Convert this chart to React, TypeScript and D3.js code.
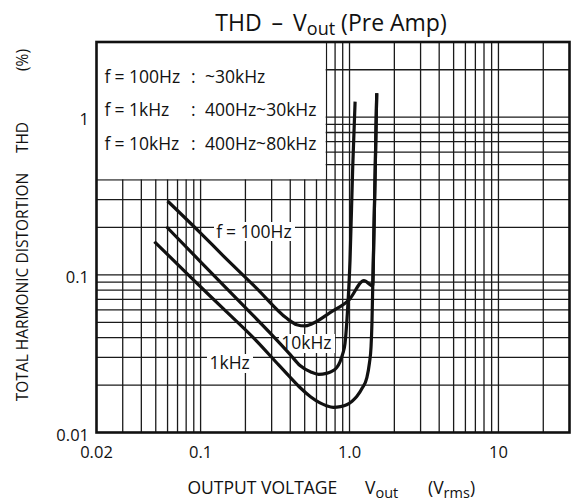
import React from "react";
import * as d3 from "d3";

// ---- data ----
const V_100HZ = [0.06, 0.1, 0.142, 0.238, 0.379, 0.442, 0.502, 0.557, 0.74, 1.0, 1.25, 1.43, 1.461, 1.49, 1.507, 1.523];
const THD_100HZ = [0.294, 0.184, 0.132, 0.0822, 0.053, 0.0483, 0.0474, 0.0488, 0.0576, 0.07, 0.092, 0.085, 0.202, 0.5, 0.872, 1.42];

const V_10KHZ = [0.059, 0.1, 0.2, 0.3, 0.4, 0.465, 0.55, 0.62, 0.7, 0.76, 0.82, 0.863, 0.9, 0.933, 0.967, 1.008, 1.051, 1.09];
const THD_10KHZ = [0.202, 0.121, 0.062, 0.0418, 0.0312, 0.0266, 0.0242, 0.0234, 0.0237, 0.0244, 0.0258, 0.0281, 0.0315, 0.0368, 0.057, 0.124, 0.486, 1.256];

const V_1KHZ = [0.049, 0.085, 0.142, 0.238, 0.33, 0.4, 0.465, 0.55, 0.634, 0.7, 0.778, 0.87, 0.957, 1.04, 1.118, 1.22, 1.306, 1.36, 1.395, 1.415, 1.432, 1.461, 1.49, 1.507, 1.523];
const THD_1KHZ = [0.1625, 0.0974, 0.061, 0.038, 0.0272, 0.0224, 0.0193, 0.0168, 0.0154, 0.0148, 0.01445, 0.0146, 0.015, 0.0158, 0.0169, 0.0192, 0.0222, 0.0275, 0.035, 0.05, 0.0842, 0.202, 0.5, 0.872, 1.42];

const X_TICKS = [0.02, 0.1, 1, 10];
const X_TICK_LABELS = ["0.02", "0.1", "1.0", "10"];
const Y_TICKS = [1, 0.1, 0.01];
const Y_TICK_LABELS = ["1", "0.1", "0.01"];

const LEGEND_FREQ = ["100Hz", "1kHz", "10kHz"];
const LEGEND_RANGE = ["~30kHz", "400Hz~30kHz", "400Hz~80kHz"];

const W = 571;
const H = 501;
const FONT = "'Open Sans', 'Noto Sans', sans-serif";

export default function App() {
  const x = d3.scaleLog().domain([0.02, 30]).range([96.5, 569.5]);
  const y = d3.scaleLog().domain([0.01, 3]).range([432.5, 42]);

  const xGrid = x.ticks().filter((v) => v > 0.0201 && v < 29.9);
  const yGrid = y.ticks().filter((v) => v > 0.0101 && v < 2.99);

  const line = d3
    .line<[number, number]>()
    .x((d) => x(d[0]))
    .y((d) => y(d[1]))
    .curve(d3.curveMonotoneX);

  const series = [
    { v: V_100HZ, t: THD_100HZ },
    { v: V_10KHZ, t: THD_10KHZ },
    { v: V_1KHZ, t: THD_1KHZ },
  ];

  const [x0, x1] = x.range();
  const [y0, y1] = y.range();
  const boxRight = x(0.7) - 0.8;
  const boxBottom = y(0.4) - 0.8;
  const legendY = [82.5, 116, 149.5];

  return (
    <svg
      width={W}
      height={H}
      style={{ position: "absolute", left: 0, top: 0, background: "#fff" }}
      fontFamily={FONT}
    >
      <rect x={0} y={0} width={W} height={H} fill="#fff" />
      {/* grid */}
      <g stroke="#1a1a1a" strokeWidth={1.3}>
        {xGrid.map((v) => (
          <line key={"gx" + v} x1={x(v)} x2={x(v)} y1={y1} y2={y0} />
        ))}
        {yGrid.map((v) => (
          <line key={"gy" + v} x1={x0} x2={x1} y1={y(v)} y2={y(v)} />
        ))}
      </g>
      {/* legend box (white) */}
      <rect x={x0} y={y1} width={boxRight - x0} height={boxBottom - y1} fill="#fff" />
      <g fontSize={17.5} fill="#111">
        {LEGEND_FREQ.map((f, i) => (
          <text key={"lg" + i} y={legendY[i]}>
            <tspan x={104.5}>f</tspan>
            <tspan x={114.5}>=</tspan>
            <tspan x={129}>{f}</tspan>
            <tspan x={191}>:</tspan>
            <tspan x={205}>{LEGEND_RANGE[i]}</tspan>
          </text>
        ))}
      </g>
      {/* curve labels with white background */}
      <g fontSize={17.5} fill="#111">
        <rect x={214} y={222} width={81} height={19} fill="#fff" />
        <text y={237.7}>
          <tspan x={216.2}>f</tspan>
          <tspan x={226}>=</tspan>
          <tspan x={240.5}>100Hz</tspan>
        </text>
        <rect x={279} y={334} width={56} height={19} fill="#fff" />
        <text x={281.2} y={349.3}>10kHz</text>
        <rect x={207} y={354} width={46} height={19} fill="#fff" />
        <text x={209.5} y={369.3}>1kHz</text>
      </g>
      {/* curves */}
      <g fill="none" stroke="#111" strokeWidth={3.2} strokeLinejoin="round" strokeLinecap="butt">
        {series.map((s, i) => (
          <path key={"c" + i} d={line(s.v.map((v, j) => [v, s.t[j]] as [number, number])) || ""} />
        ))}
      </g>
      {/* frame */}
      <rect x={x0} y={y1} width={x1 - x0} height={y0 - y1} fill="none" stroke="#111" strokeWidth={2.6} />
      {/* x tick labels */}
      <g fontSize={16.5} fill="#111" textAnchor="middle">
        {X_TICKS.map((v, i) => (
          <text key={"xt" + v} x={x(v)} y={458}>
            {X_TICK_LABELS[i]}
          </text>
        ))}
      </g>
      {/* y tick labels */}
      <g fontSize={16.5} fill="#111" textAnchor="end">
        {Y_TICKS.map((v, i) => (
          <text key={"yt" + v} x={89} y={y(v) + 8}>
            {Y_TICK_LABELS[i]}
          </text>
        ))}
      </g>
      {/* title */}
      <text x={331} y={31} fontSize={23} fill="#111" textAnchor="middle">
        THD<tspan dx={10}>–</tspan>
        <tspan dx={10}>V</tspan>
        <tspan fontSize={18} dy={4}>out</tspan>
        <tspan dx={6} dy={-4}>(Pre Amp)</tspan>
      </text>
      {/* x axis title */}
      <text y={494} fontSize={17.5} fill="#111">
        <tspan x={187.5}>OUTPUT VOLTAGE</tspan>
        <tspan x={365}>V</tspan>
        <tspan fontSize={14.5} dy={4}>out</tspan>
        <tspan x={428} dy={-4}>(V</tspan>
        <tspan fontSize={14.5} dy={4}>rms</tspan>
        <tspan dy={-4}>)</tspan>
      </text>
      {/* y axis title */}
      <g transform="translate(28,0) rotate(-90)" fontSize={15.5} fill="#111" textAnchor="middle">
        <text x={-287}>TOTAL HARMONIC DISTORTION</text>
        <text x={-137.5}>THD</text>
        <text x={-60}>(%)</text>
      </g>
    </svg>
  );
}
